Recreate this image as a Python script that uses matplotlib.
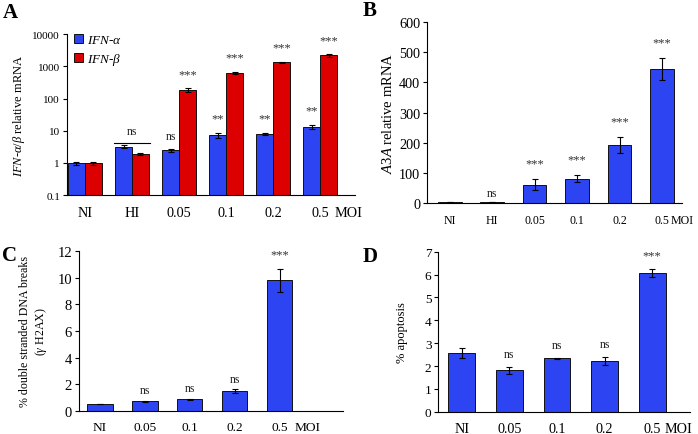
import matplotlib
matplotlib.use("Agg")
import matplotlib.pyplot as plt
import numpy as np

plt.rcParams['font.family'] = ['Liberation Serif', 'DejaVu Serif']
plt.rcParams['mathtext.fontset'] = 'custom'
plt.rcParams['mathtext.rm'] = 'Liberation Serif'
plt.rcParams['mathtext.it'] = 'Liberation Serif:italic'
plt.rcParams['font.size'] = 8.5

BLUE = '#2d44f2'
RED = '#dc0000'

# panel A
a_cats = ['NI', 'HI', '0.05', '0.1', '0.2', '0.5']
ifna = [0.97, 3.2, 2.5, 7.4, 8.1, 13.4]
ifna_err = [0.12, 0.35, 0.3, 1.3, 0.6, 2.2]
ifnb = [0.97, 1.86, 185, 640, 1330, 2200]
ifnb_err = [0.08, 0.12, 25, 40, 70, 200]
ifna_sig = ['', '', 'ns', '**', '**', '**']
ifnb_sig = ['', '', '***', '***', '***', '***']

# panel B
b_cats = ['NI', 'HI', '0.05', '0.1', '0.2', '0.5']
a3a = [3, 3, 61, 81, 192, 444]
a3a_err = [0, 0, 18, 11, 27, 36]
a3a_sig = ['', 'ns', '***', '***', '***', '***']

# panel C
c_cats = ['NI', '0.05', '0.1', '0.2', '0.5']
dsb = [0.5, 0.72, 0.88, 1.49, 9.78]
dsb_err = [0, 0.06, 0.05, 0.12, 0.85]
dsb_sig = ['', 'ns', 'ns', 'ns', '***']

# panel D
d_cats = ['NI', '0.05', '0.1', '0.2', '0.5']
apop = [2.57, 1.81, 2.34, 2.21, 6.07]
apop_err = [0.2, 0.17, 0.03, 0.18, 0.16]
apop_sig = ['', 'ns', 'ns', 'ns', '***']

fig = plt.figure(figsize=(6.98, 4.35), dpi=100)
axA = fig.add_axes([0.096, 0.549, 0.413, 0.370])
axB = fig.add_axes([0.612, 0.531, 0.365, 0.416])
axC = fig.add_axes([0.113, 0.053, 0.378, 0.368])
axD = fig.add_axes([0.628, 0.051, 0.361, 0.368])


def style(ax, cats, pad, xfs, yfs, moi_dx):
    x = np.arange(len(cats))
    for s in ['top', 'right']:
        ax.spines[s].set_visible(False)
    for s in ['left', 'bottom']:
        ax.spines[s].set_linewidth(0.8)
    ax.set_xticks(x)
    ax.set_xticklabels(cats, fontsize=xfs)
    ax.tick_params(axis='x', length=0, pad=pad)
    ax.tick_params(axis='y', length=3, width=0.8, labelsize=yfs, pad=2)
    ax.annotate('MOI', xy=(x[-1], 0), xycoords=ax.get_xaxis_transform(),
                xytext=(moi_dx, -pad), textcoords='offset points',
                ha='left', va='top', fontsize=xfs)


def stars(ax, xs, tops, labels, dy=3, dy_ns=None):
    if dy_ns is None:
        dy_ns = dy
    for xi, t, lab in zip(xs, tops, labels):
        if not lab:
            continue
        if lab == 'ns':
            ax.annotate(lab, (xi, t), xytext=(0, dy_ns), textcoords='offset points',
                        ha='center', va='bottom', fontsize=8.5, color='#222222')
        else:
            ax.annotate(lab, (xi, t), xytext=(0, dy + 1), textcoords='offset points',
                        ha='center', va='bottom', fontsize=9, color='#333333')


ebk = dict(ecolor='black', elinewidth=0.8, capsize=2, capthick=0.8)

# A
x = np.arange(len(a_cats))
w = 0.36
axA.bar(x - w / 2, ifna, w, yerr=ifna_err, color=BLUE, edgecolor='#111111', linewidth=0.7,
        error_kw=ebk, label=r'$IFN$-$\alpha$')
axA.bar(x + w / 2, ifnb, w, yerr=ifnb_err, color=RED, edgecolor='#111111', linewidth=0.7,
        error_kw=ebk, label=r'$IFN$-$\beta$')
axA.set_yscale('log')
axA.set_ylim(0.1, 10000)
axA.set_yticks([0.1, 1, 10, 100, 1000, 10000])
axA.set_yticklabels(['0.1', '1', '10', '100', '1000', '10000'])
axA.yaxis.set_minor_locator(matplotlib.ticker.NullLocator())
axA.set_xlim(-0.38, 5.74)
style(axA, a_cats, 8, 10.3, 8, 10)
axA.set_ylabel(r'$IFN$-$\alpha/\beta$ relative mRNA', fontsize=9, labelpad=4)
stars(axA, x - w / 2, np.array(ifna) + np.array(ifna_err), ifna_sig, dy=5)
stars(axA, x + w / 2, np.array(ifnb) + np.array(ifnb_err), ifnb_sig, dy=5)
# ns over HI group
axA.plot([1 - w - 0.02, 1 + w + 0.02], [4.3, 4.3], color='black', lw=0.8)
axA.text(1, 6.2, 'ns', ha='center', va='bottom', fontsize=8.5, color='#222222')
axA.legend(loc='upper left', bbox_to_anchor=(0.025, 1.0), frameon=False, fontsize=9.5,
           borderpad=0, borderaxespad=0,
           handlelength=0.7, handleheight=0.7, handletextpad=0.3, labelspacing=0.35)

# B
x = np.arange(len(b_cats))
axB.bar(x, a3a, 0.56, yerr=a3a_err, color=BLUE, edgecolor='#111111', linewidth=0.7, error_kw=ebk)
axB.set_ylim(0, 600)
axB.set_yticks(range(0, 601, 100))
axB.set_xlim(-0.53, 5.47)
style(axB, b_cats, 8, 8.6, 10.3, 6.5)
axB.set_ylabel(r'$A3A$ relative mRNA', fontsize=10.5, labelpad=3)
stars(axB, x, np.array(a3a) + np.array(a3a_err), a3a_sig, dy=6, dy_ns=2)

# C
x = np.arange(len(c_cats))
axC.bar(x, dsb, 0.56, yerr=dsb_err, color=BLUE, edgecolor='#111111', linewidth=0.7, error_kw=ebk)
axC.set_ylim(0, 12)
axC.set_yticks(range(0, 13, 2))
axC.set_xlim(-0.47, 5.4)
style(axC, c_cats, 7, 9.6, 10.5, 11)
axC.set_ylabel('% double stranded DNA breaks\n' + r'($\gamma$ H2AX)', fontsize=8.6, labelpad=6)
stars(axC, x, np.array(dsb) + np.array(dsb_err), dsb_sig, dy=5, dy_ns=3)

# D
x = np.arange(len(d_cats))
axD.bar(x, apop, 0.56, yerr=apop_err, color=BLUE, edgecolor='#111111', linewidth=0.7, error_kw=ebk)
axD.set_ylim(0, 7)
axD.set_yticks(range(0, 8))
axD.set_xlim(-0.49, 4.8)
style(axD, d_cats, 7, 10.2, 9.5, 9)
axD.set_ylabel('% apoptosis', fontsize=9, labelpad=12)
stars(axD, x, np.array(apop) + np.array(apop_err), apop_sig, dy=5)

# panel letters
for lab, px, py in [('A', 3, 13), ('B', 363, 11), ('C', 2, 256), ('D', 363, 257)]:
    fig.text(px / 698, 1 - py / 435, lab, fontsize=15, fontweight='bold',
             ha='left', va='center')

fig.savefig('out.png', dpi=100)
